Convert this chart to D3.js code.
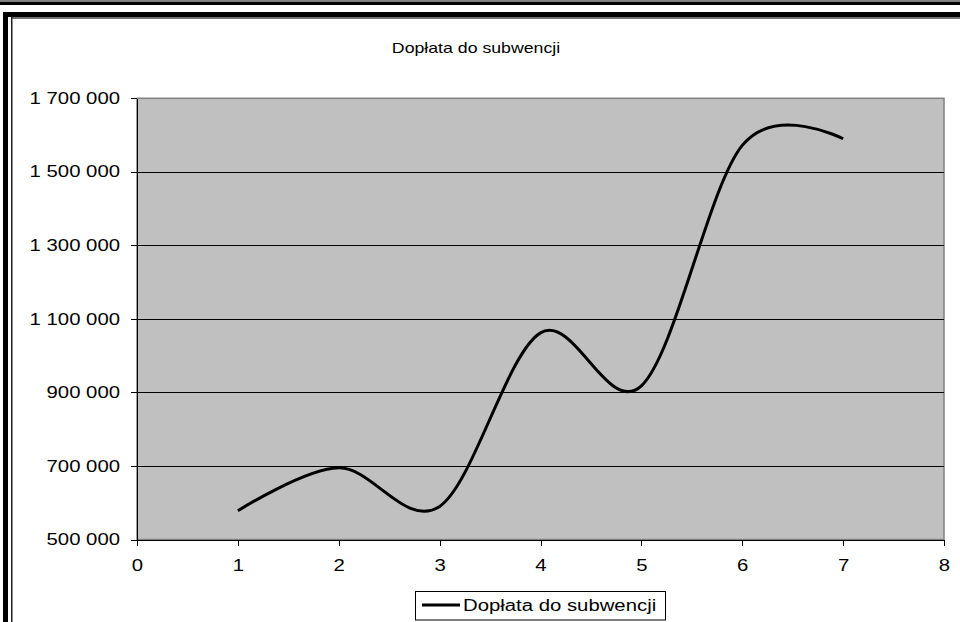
<!DOCTYPE html>
<html>
  <head>
    <meta charset="utf-8">
    <title>Dopłata do subwencji</title>
    <script src="https://d3js.org/d3.v7.min.js"></script>
    <style>
      body { margin: 0; background: white; }
      svg { display: block; font-family: Arial, "Liberation Sans", sans-serif; }
      .grid line { stroke: black; stroke-width: 1; }
      .axis path, .axis line { stroke: black; shape-rendering: crispEdges; }
      .axis text { font-size: 16px; fill: black; }
    </style>
  </head>
  <body>
    <svg id="chart" width="960" height="622"></svg>
    <script>
      // chart values
      xTicks = [0, 1, 2, 3, 4, 5, 6, 7, 8];
      yTicks = [500000, 700000, 900000, 1100000, 1300000, 1500000, 1700000];
      seriesName = "Dopłata do subwencji";
      seriesX = [1, 2, 3, 4, 5, 6, 7];
      seriesY = [578000, 695000, 590000, 1062000, 918000, 1572000, 1590000];

      // text in the picture is stretched sideways
      function widen(sel, k) {
        sel.each(function() {
          let w = this.getComputedTextLength();
          d3.select(this)
            .attr("textLength", w * (k || 1.27))
            .attr("lengthAdjust", "spacingAndGlyphs");
        });
      }

      svg = d3.select("#chart");
      // frame
      svg.append("rect").attr("x", 0).attr("y", 0).attr("width", 960).attr("height", 2).attr("fill", "#808080");
      svg.append("rect").attr("x", 0).attr("y", 2).attr("width", 960).attr("height", 3).attr("fill", "black");
      svg.append("rect").attr("x", 3).attr("y", 12).attr("width", 957).attr("height", 5).attr("fill", "black");
      svg.append("rect").attr("x", 3).attr("y", 12).attr("width", 5).attr("height", 610).attr("fill", "black");
      svg.append("rect").attr("x", 11).attr("y", 17).attr("width", 949).attr("height", 2).attr("fill", "#707070");
      svg.append("rect").attr("x", 11).attr("y", 17).attr("width", 1.5).attr("height", 605).attr("fill", "#202020");

      // scales
      x = d3.scaleLinear().domain([0, 8]).range([137, 944]);
      y = d3.scaleLinear().domain([500000, 1700000]).range([539.5, 98.3]);

      // plot area
      svg.append("rect")
        .attr("x", x(0)).attr("y", y(1700000))
        .attr("width", x(8) - x(0)).attr("height", y(500000) - y(1700000))
        .attr("fill", "#C0C0C0")
        .attr("stroke", "#808080")
        .attr("stroke-width", 1.5);
      svg.append("g")
          .attr("class", "grid")
        .selectAll("line")
          .data(yTicks.slice(1, -1))
        .enter().append("line")
          .attr("x1", x(0)).attr("x2", x(8))
          .attr("y1", function(d) { return Math.round(y(d)) + 0.5; })
          .attr("y2", function(d) { return Math.round(y(d)) + 0.5; });

      // axes
      fmt = function(d) { return d3.format(",")(d).replace(/,/g, " "); };
      yAxis = svg.append("g")
        .attr("class", "axis")
        .attr("transform", "translate(" + x(0) + ",0)")
        .call(d3.axisLeft(y).tickValues(yTicks).tickFormat(fmt).tickSize(6).tickPadding(11).tickSizeOuter(0));
      xAxis = svg.append("g")
        .attr("class", "axis")
        .attr("transform", "translate(0," + y(500000) + ")")
        .call(d3.axisBottom(x).tickValues(xTicks).tickFormat(d3.format("d")).tickSize(6).tickPadding(14).tickSizeOuter(0));
      svg.selectAll(".axis text").call(widen);

      // series (Excel-style smoothed line)
      line = d3.line()
        .x(function(d) { return x(d[0]); })
        .y(function(d) { return y(d[1]); })
        .curve(d3.curveCardinal.tension(0));
      svg.append("path")
        .datum(d3.zip(seriesX, seriesY))
        .attr("d", line)
        .attr("fill", "none")
        .attr("stroke", "black")
        .attr("stroke-width", 3)
        .attr("stroke-linejoin", "round");

      // title
      svg.append("text")
        .attr("x", 476).attr("y", 53)
        .attr("text-anchor", "middle")
        .style("font-size", "15px")
        .text(seriesName)
        .call(widen, 1.18);

      // legend
      legend = svg.append("g");
      legend.append("rect")
        .attr("x", 415.5).attr("y", 591.5).attr("width", 250).attr("height", 28.5)
        .attr("fill", "white").attr("stroke", "black");
      legend.append("line")
        .attr("x1", 422).attr("x2", 460).attr("y1", 605).attr("y2", 605)
        .attr("stroke", "black").attr("stroke-width", 3);
      legend.append("text")
        .attr("x", 463).attr("y", 611)
        .style("font-size", "16px")
        .text(seriesName)
        .call(widen);
    </script>
  </body>
</html>
